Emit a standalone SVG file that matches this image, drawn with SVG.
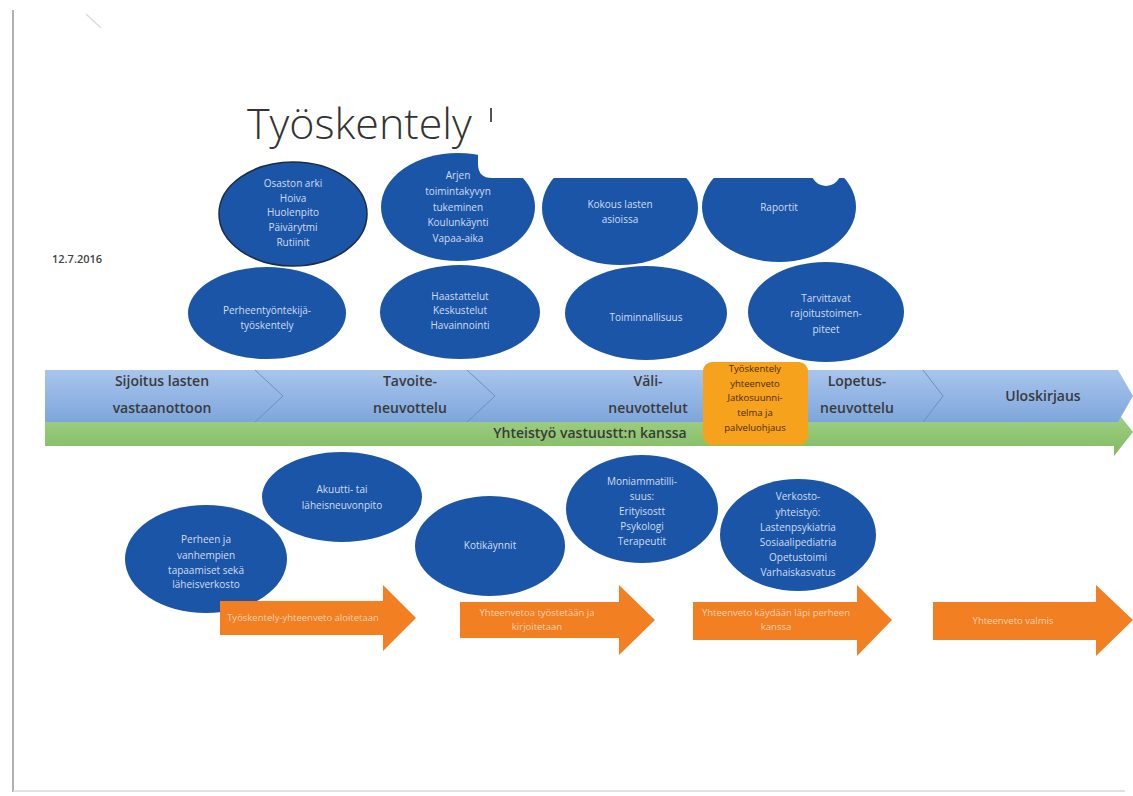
<svg xmlns="http://www.w3.org/2000/svg" width="1133" height="796" viewBox="0 0 1133 796">
<defs>
<linearGradient id="gBlue" x1="0" y1="0" x2="0" y2="1"><stop offset="0" stop-color="#a8c5ec"/><stop offset="1" stop-color="#7ea6dc"/></linearGradient>
<linearGradient id="gGreen" x1="0" y1="0" x2="0" y2="1"><stop offset="0" stop-color="#a6d38c"/><stop offset="1" stop-color="#80bb60"/></linearGradient>
<style>
.ell{fill:#1a55a7}
.et{font-family:"Open Sans","Liberation Sans",sans-serif;font-size:10px;fill:#d3ddf1;text-anchor:middle}
.bt{font-family:"Open Sans","Liberation Sans",sans-serif;font-size:14px;font-weight:600;fill:#3a3a3a;text-anchor:middle}
.ot{font-family:"Open Sans","Liberation Sans",sans-serif;font-size:9.5px;fill:#4a2e00;text-anchor:middle}
.at{font-family:"Open Sans","Liberation Sans",sans-serif;font-size:9.5px;fill:#f9d2b4;text-anchor:middle}
.arr{fill:#f27f22}
.chev{fill:none;stroke:#6f8fbf;stroke-width:1}
</style>
</defs>
<rect width="1133" height="796" fill="#ffffff"/>
<line x1="13" y1="10" x2="13" y2="792" stroke="#b0b0b0" stroke-width="2"/>
<line x1="13" y1="791" x2="1125" y2="791" stroke="#d8d8d8" stroke-width="1.5"/>
<line x1="86" y1="14" x2="101" y2="28" stroke="#dcdcdc" stroke-width="1.5"/>

<g id="title">
<text x="247" y="139" font-family="'Open Sans','Liberation Sans',sans-serif" font-weight="300" font-size="43" fill="#333333">Työskentely</text>
<rect x="490" y="108" width="2" height="14" fill="#555555"/>
</g>
<g id="date"><text x="52" y="263" font-family="'Open Sans','Liberation Sans',sans-serif" font-weight="600" font-size="11" fill="#444444">12.7.2016</text></g>

<g id="n-osaston">
<ellipse class="ell" cx="293" cy="214" rx="74" ry="52" stroke="#1f2b40" stroke-width="1.5"/>
<text class="et" x="293" y="187">Osaston arki</text>
<text class="et" x="293" y="202">Hoiva</text>
<text class="et" x="293" y="216">Huolenpito</text>
<text class="et" x="293" y="231">Päivärytmi</text>
<text class="et" x="293" y="246">Rutiinit</text>
</g>
<g id="n-arjen">
<ellipse class="ell" cx="458" cy="207" rx="77" ry="54"/>
<text class="et" x="458" y="179">Arjen</text>
<text class="et" x="458" y="195">toimintakyvyn</text>
<text class="et" x="458" y="211">tukeminen</text>
<text class="et" x="458" y="226">Koulunkäynti</text>
<text class="et" x="458" y="242">Vapaa-aika</text>
</g>
<g id="n-kokous">
<ellipse class="ell" cx="620" cy="208" rx="78" ry="57"/>
<text class="et" x="620" y="208">Kokous lasten</text>
<text class="et" x="620" y="223">asioissa</text>
</g>
<g id="n-raportit">
<ellipse class="ell" cx="779" cy="207" rx="77" ry="55"/>
<text class="et" x="779" y="211">Raportit</text>
</g>
<g id="mask">
<path d="M478 150 H850 V178 H492 Q478 178 478 164 Z" fill="#ffffff"/>
<circle cx="826" cy="171" r="15" fill="#ffffff"/>
</g>

<g id="n-perheentyo">
<ellipse class="ell" cx="267" cy="313" rx="79" ry="46"/>
<text class="et" x="267" y="314">Perheentyöntekijä-</text>
<text class="et" x="267" y="329">työskentely</text>
</g>
<g id="n-haastattelut">
<ellipse class="ell" cx="460" cy="312" rx="80" ry="47"/>
<text class="et" x="460" y="300">Haastattelut</text>
<text class="et" x="460" y="314">Keskustelut</text>
<text class="et" x="460" y="329">Havainnointi</text>
</g>
<g id="n-toiminnallisuus">
<ellipse class="ell" cx="646" cy="313" rx="81" ry="47"/>
<text class="et" x="646" y="321">Toiminnallisuus</text>
</g>
<g id="n-tarvittavat">
<ellipse class="ell" cx="826" cy="312" rx="78" ry="50"/>
<text class="et" x="826" y="302">Tarvittavat</text>
<text class="et" x="826" y="317">rajoitustoimen-</text>
<text class="et" x="826" y="333">piteet</text>
</g>

<g id="band">
<path d="M45 412 H1114 V408 L1133 432 L1114 456 V446 H45 Z" fill="url(#gGreen)"/>
<path d="M45 370 H1118 L1133 396 L1118 422 H45 Z" fill="url(#gBlue)"/>
<path class="chev" d="M255 370 L283 396 L255 422"/>
<path class="chev" d="M467 370 L495 396 L467 422"/>
<path class="chev" d="M923 370 L943 396 L923 422"/>
<text class="bt" x="162" y="386">Sijoitus lasten</text>
<text class="bt" x="162" y="413">vastaanottoon</text>
<text class="bt" x="410" y="386">Tavoite-</text>
<text class="bt" x="410" y="413">neuvottelu</text>
<text class="bt" x="648" y="386">Väli-</text>
<text class="bt" x="648" y="413">neuvottelut</text>
<text class="bt" x="857" y="386">Lopetus-</text>
<text class="bt" x="857" y="413">neuvottelu</text>
<text class="bt" x="1043" y="401">Uloskirjaus</text>
<text class="bt" x="590" y="438">Yhteistyö vastuustt:n kanssa</text>
</g>
<g id="n-yhteenveto">
<rect x="703" y="362" width="105" height="83" rx="9" fill="#f6a21c"/>
<text class="ot" x="755" y="372">Työskentely</text>
<text class="ot" x="755" y="387">yhteenveto</text>
<text class="ot" x="755" y="401">Jatkosuunni-</text>
<text class="ot" x="755" y="416">telma ja</text>
<text class="ot" x="755" y="431">palveluohjaus</text>
</g>

<g id="n-akuutti">
<ellipse class="ell" cx="342" cy="497" rx="80" ry="45"/>
<text class="et" x="342" y="493">Akuutti- tai</text>
<text class="et" x="342" y="509">läheisneuvonpito</text>
</g>
<g id="n-perheen">
<ellipse class="ell" cx="206" cy="559" rx="81" ry="54"/>
<text class="et" x="206" y="543">Perheen ja</text>
<text class="et" x="206" y="559">vanhempien</text>
<text class="et" x="206" y="574">tapaamiset sekä</text>
<text class="et" x="206" y="588">läheisverkosto</text>
</g>
<g id="n-kotikaynnit">
<ellipse class="ell" cx="490" cy="546" rx="75" ry="50"/>
<text class="et" x="490" y="549">Kotikäynnit</text>
</g>
<g id="n-moniammatillisuus">
<ellipse class="ell" cx="642" cy="509" rx="76" ry="54"/>
<text class="et" x="642" y="485">Moniammatilli-</text>
<text class="et" x="642" y="500">suus:</text>
<text class="et" x="642" y="515" fill="#d88aa8">Erityisostt</text>
<text class="et" x="642" y="530">Psykologi</text>
<text class="et" x="642" y="545" fill="#a9bfe8">Terapeutit</text>
</g>
<g id="n-verkosto">
<ellipse class="ell" cx="798" cy="535" rx="78" ry="56"/>
<text class="et" x="798" y="500">Verkosto-</text>
<text class="et" x="798" y="516">yhteistyö:</text>
<text class="et" x="798" y="531">Lastenpsykiatria</text>
<text class="et" x="798" y="546">Sosiaalipediatria</text>
<text class="et" x="798" y="561">Opetustoimi</text>
<text class="et" x="798" y="576">Varhaiskasvatus</text>
</g>

<g id="connectors">
<g id="arrow1">
<path class="arr" d="M220 601 H383 V585 L416 618 L383 651 V635 H220 Z"/>
<text class="at" x="303" y="621">Työskentely-yhteenveto aloitetaan</text>
</g>
<g id="arrow2">
<path class="arr" d="M460 602 H619 V585 L655 620 L619 655 V638 H460 Z"/>
<text class="at" x="537" y="616">Yhteenvetoa  työstetään ja</text>
<text class="at" x="537" y="630">kirjoitetaan</text>
</g>
<g id="arrow3">
<path class="arr" d="M693 602 H857 V585 L892 620 L857 656 V640 H693 Z"/>
<text class="at" x="776" y="616">Yhteenveto käydään läpi perheen</text>
<text class="at" x="776" y="630">kanssa</text>
</g>
<g id="arrow4">
<path class="arr" d="M933 602 H1096 V585 L1133 620 L1096 656 V640 H933 Z"/>
<text class="at" x="1013" y="624">Yhteenveto valmis</text>
</g>
</g>
</svg>
